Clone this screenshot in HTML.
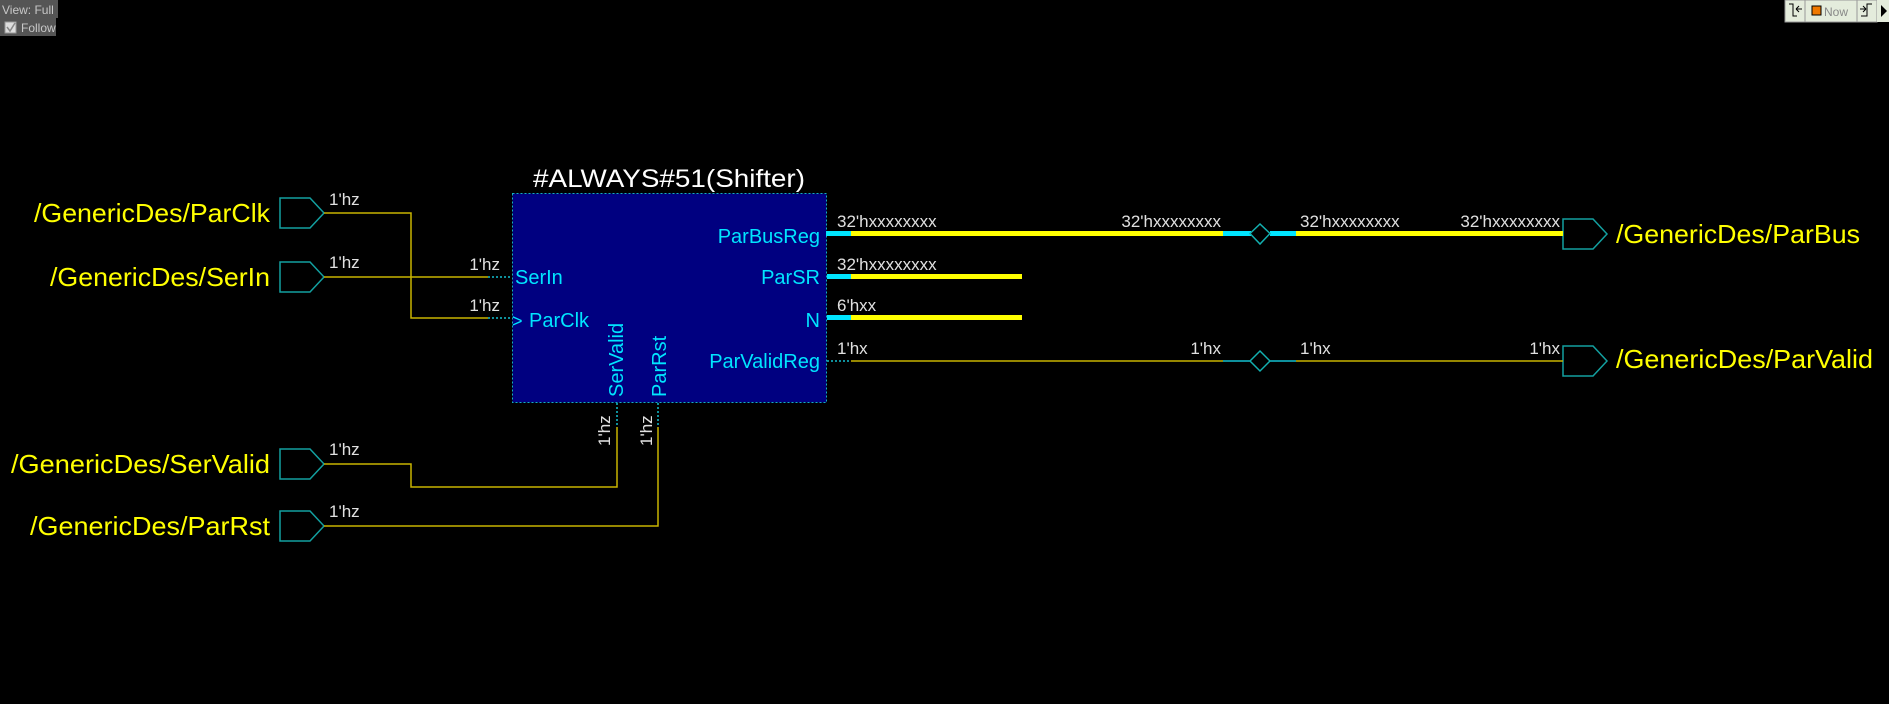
<!DOCTYPE html>
<html><head><meta charset="utf-8"><style>
html,body{margin:0;padding:0;background:#000;width:1889px;height:704px;overflow:hidden}
svg{display:block}
text{font-family:"Liberation Sans",sans-serif}
</style></head><body>
<svg width="1889" height="704" viewBox="0 0 1889 704" xmlns="http://www.w3.org/2000/svg">
<rect width="1889" height="704" fill="#000"/>
<!-- top-left -->
<rect x="0" y="0" width="58" height="18" fill="#555"/>
<text x="2" y="14" font-size="12" fill="#c8c8c8">View: Full</text>
<rect x="0" y="18" width="56" height="18" fill="#555"/>
<rect x="5" y="22" width="11" height="11" fill="#ddd" stroke="#999"/>
<path d="M7 27 L10 31 L15 23" stroke="#888" stroke-width="1.5" fill="none"/>
<text x="21" y="32" font-size="12" fill="#c8c8c8">Follow</text>
<!-- top-right toolbar -->
<rect x="1785" y="0" width="92" height="22" fill="#e4ecdc" stroke="#999"/>
<line x1="1805" y1="0" x2="1805" y2="22" stroke="#999"/>
<line x1="1857" y1="0" x2="1857" y2="22" stroke="#999"/>
<path d="M1789 4 L1793 4 L1793 16 L1797 16" stroke="#000" fill="none"/>
<path d="M1796 9 L1802 9 M1796 9 L1799 6 M1796 9 L1799 12" stroke="#000" fill="none"/>
<rect x="1812" y="6" width="9" height="9" fill="#f07800" stroke="#000"/>
<text x="1824" y="16" font-size="12" fill="#888" font-family="Liberation Serif">Now</text>
<path d="M1861 16 L1867 16 L1867 4 L1872 4" stroke="#000" fill="none"/>
<path d="M1860 9 L1866 9 M1866 9 L1863 6 M1866 9 L1863 12" stroke="#000" fill="none"/>
<rect x="1877" y="0" width="12" height="22" fill="#e4ecdc"/>
<path d="M1881 5 L1887 11 L1881 17 Z" fill="#000"/>

<!-- box -->
<rect x="512.5" y="193.5" width="314" height="209" fill="#000080" stroke="#13b0c0" stroke-dasharray="2,2"/>
<text x="669" y="187" font-size="25" fill="#fff" text-anchor="middle" textLength="272" lengthAdjust="spacingAndGlyphs">#ALWAYS#51(Shifter)</text>
<g fill="#00e5ff" font-size="20">
<text x="515" y="284">SerIn</text>
<text x="512" y="327" font-size="18">&gt;</text>
<text x="529" y="327">ParClk</text>
<text x="820" y="243" text-anchor="end">ParBusReg</text>
<text x="820" y="284" text-anchor="end">ParSR</text>
<text x="820" y="327" text-anchor="end">N</text>
<text x="820" y="368" text-anchor="end">ParValidReg</text>
<text transform="translate(623,397) rotate(-90)">SerValid</text>
<text transform="translate(666,397) rotate(-90)">ParRst</text>
</g>

<!-- input ports -->
<g fill="none" stroke="#13a0a0" stroke-width="1.5">
<path d="M280 198 L310 198 L324 213 L310 228 L280 228 Z"/>
<path d="M280 262 L310 262 L324 277 L310 292 L280 292 Z"/>
<path d="M280 449 L310 449 L324 464 L310 479 L280 479 Z"/>
<path d="M280 511 L310 511 L324 526 L310 541 L280 541 Z"/>
<path d="M1563 219 L1593 219 L1607 234 L1593 249 L1563 249 Z"/>
<path d="M1563 346 L1593 346 L1607 361 L1593 376 L1563 376 Z"/>
</g>
<g fill="#ffff00" font-size="26">
<text x="270" y="222" text-anchor="end" textLength="236" lengthAdjust="spacingAndGlyphs">/GenericDes/ParClk</text>
<text x="270" y="286" text-anchor="end" textLength="220" lengthAdjust="spacingAndGlyphs">/GenericDes/SerIn</text>
<text x="270" y="473" text-anchor="end" textLength="259" lengthAdjust="spacingAndGlyphs">/GenericDes/SerValid</text>
<text x="270" y="535" text-anchor="end" textLength="240" lengthAdjust="spacingAndGlyphs">/GenericDes/ParRst</text>
<text x="1616" y="243" textLength="244" lengthAdjust="spacingAndGlyphs">/GenericDes/ParBus</text>
<text x="1616" y="368" textLength="257" lengthAdjust="spacingAndGlyphs">/GenericDes/ParValid</text>
</g>

<!-- input wires -->
<g fill="none" stroke="#c8b400" stroke-width="1.5">
<path d="M324 213 L411 213 L411 318 L488 318"/>
<path d="M324 277 L488 277"/>
<path d="M324 464 L411 464 L411 487 L617 487 L617 427"/>
<path d="M324 526 L658 526 L658 427"/>
</g>
<g fill="none" stroke="#13c0d0" stroke-width="1.5" stroke-dasharray="2,2">
<path d="M488 277 L512 277"/>
<path d="M488 318 L512 318"/>
<path d="M617 403 L617 427"/>
<path d="M658 403 L658 427"/>
<path d="M827 361 L851 361"/>
</g>
<g fill="#e0e0e0" font-size="17">
<text x="329" y="205">1'hz</text>
<text x="329" y="268">1'hz</text>
<text x="329" y="455">1'hz</text>
<text x="329" y="517">1'hz</text>
<text x="500" y="270" text-anchor="end">1'hz</text>
<text x="500" y="311" text-anchor="end">1'hz</text>
<text transform="translate(610,446) rotate(-90)">1'hz</text>
<text transform="translate(652,446) rotate(-90)">1'hz</text>
<text x="837" y="227">32'hxxxxxxxx</text>
<text x="1221" y="227" text-anchor="end">32'hxxxxxxxx</text>
<text x="1300" y="227">32'hxxxxxxxx</text>
<text x="1560" y="227" text-anchor="end">32'hxxxxxxxx</text>
<text x="837" y="270">32'hxxxxxxxx</text>
<text x="837" y="311">6'hxx</text>
<text x="837" y="354">1'hx</text>
<text x="1221" y="354" text-anchor="end">1'hx</text>
<text x="1300" y="354">1'hx</text>
<text x="1560" y="354" text-anchor="end">1'hx</text>
</g>

<!-- buses -->
<g>
<rect x="827" y="231" width="24" height="5" fill="#00e5ff"/>
<rect x="851" y="231" width="372" height="5" fill="#ffff00"/>
<rect x="1223" y="231" width="28" height="5" fill="#00e5ff"/>
<rect x="1270" y="231" width="26" height="5" fill="#00e5ff"/>
<rect x="1296" y="231" width="267" height="5" fill="#ffff00"/>
<rect x="827" y="274" width="24" height="5" fill="#00e5ff"/>
<rect x="851" y="274" width="171" height="5" fill="#ffff00"/>
<rect x="827" y="315" width="24" height="5" fill="#00e5ff"/>
<rect x="851" y="315" width="171" height="5" fill="#ffff00"/>
<rect x="826" y="231" width="2" height="5" fill="#00e5ff"/>
</g>
<path d="M851 361 L1223 361 M1296 361 L1563 361" stroke="#c8b400" stroke-width="1.5"/>
<path d="M1223 361 L1251 361 M1270 361 L1296 361" stroke="#13c0d0" stroke-width="1.5"/>
<g fill="#000" stroke="#13b0b0" stroke-width="1.5">
<path d="M1250 233.5 L1260 224 L1270 233.5 L1260 244 Z"/>
<path d="M1250 361 L1260 351 L1270 361 L1260 371 Z"/>
</g>
</svg>
</body></html>
